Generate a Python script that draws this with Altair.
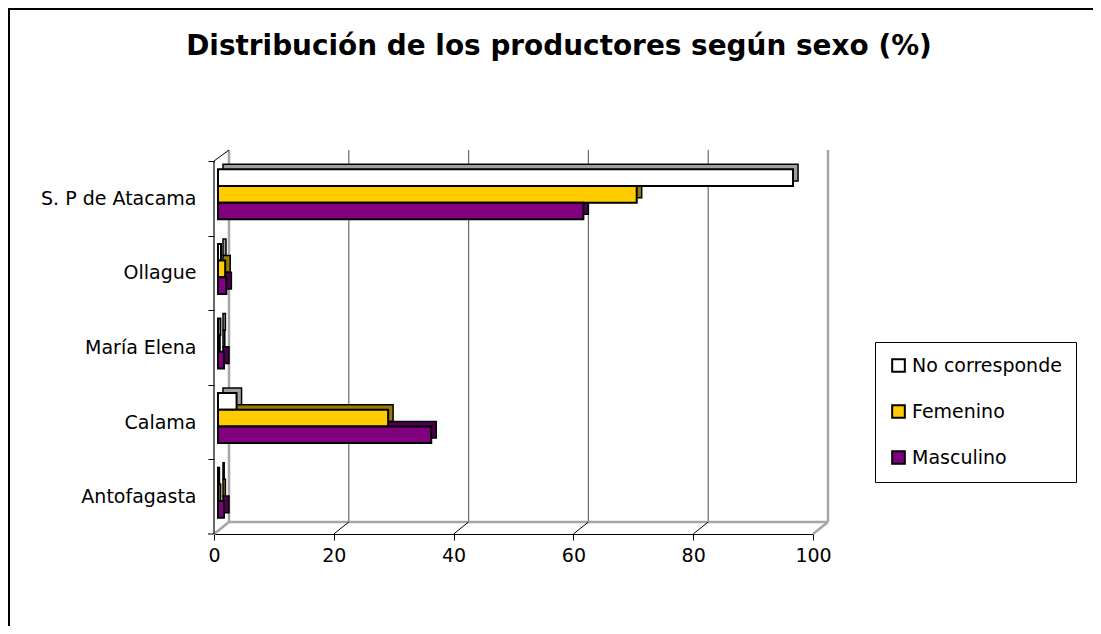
import altair as alt
import pandas as pd

categories = ["S. P de Atacama", "Ollague", "María Elena", "Calama", "Antofagasta"]
series = ["No corresponde", "Femenino", "Masculino"]
no_corresponde = [96.0, 0.5, 0.4, 3.1, 0.2]
femenino = [69.9, 1.2, 0.3, 28.4, 0.4]
masculino = [61.0, 1.4, 1.0, 35.6, 1.0]
colors = ["#FFFFFF", "#FFCC00", "#800080"]
side_colors = ["#A0A0A0", "#9A7A00", "#4D004D"]
x_ticks = [0, 20, 40, 60, 80, 100]
title_text = "Distribución de los productores según sexo (%)"

FONT = "DejaVu Sans"
W, H = 599, 373
STEP = H / 5.0
PI, PO = 0.33, 0.165
BW = STEP * (1 - PI)
DEPTH = 4

rows = []
for s, vals, sc in zip(series, [no_corresponde, femenino, masculino], side_colors):
    for c, v in zip(categories, vals):
        rows.append({"region": c, "sexo": s, "pct": v, "side": sc})
df = pd.DataFrame(rows)
one = pd.DataFrame({"a": [0]})
inner_df = pd.DataFrame({"t": x_ticks[1:-1]})
edge_df = pd.DataFrame({"t": [x_ticks[0], x_ticks[-1]]})

xscale = alt.Scale(domain=[0, 100], nice=False, zero=True)
yscale = alt.Scale(domain=categories, paddingInner=PI, paddingOuter=PO, range=[-DEPTH, H - DEPTH])

xaxis = alt.Axis(
    values=x_ticks, title=None, grid=False, domainColor="black", domainWidth=1.2,
    tickColor="black", tickSize=6, labelFontSize=19, labelFont=FONT,
    labelColor="black", labelPadding=6, format="d", labelFlush=False)
yaxis = alt.Axis(
    title=None, grid=False, domain=False, tickColor="black",
    tickSize=6, tickOffset=-(STEP / 2 - DEPTH), labelOffset=STEP / 2, labelFontSize=19,
    labelFont=FONT, labelColor="black", labelPadding=12)

xq = alt.X("t:Q", scale=xscale, axis=xaxis)

# outer border
border = alt.Chart(one).mark_rect(fill=None, stroke="black", strokeWidth=2).encode(
    x=alt.value(-205), x2=alt.value(3000), y=alt.value(-152), y2=alt.value(3000)
)

title = alt.Chart(one).mark_text(
    text=title_text, font=FONT, fontSize=27.9, fontWeight="bold", align="center",
    baseline="alphabetic", color="black"
).encode(x=alt.value(345), y=alt.value(-106))

# back wall gridlines
grid = alt.Chart(inner_df).mark_rule(color="#6A6A6A", strokeWidth=1.2, xOffset=15).encode(
    x=xq, y=alt.value(-11), y2=alt.value(H - 12)
)
walls = alt.Chart(edge_df).mark_rule(color="#A6A6A6", strokeWidth=2.5, xOffset=15).encode(
    x=xq, y=alt.value(-11), y2=alt.value(H - 12)
)
floor_back = alt.Chart(one).mark_rule(color="#A6A6A6", strokeWidth=2.5).encode(
    x=alt.value(15), x2=alt.value(W + 15), y=alt.value(H - 12)
)
diag_inner = alt.Chart(inner_df).mark_rule(color="black", strokeWidth=1, x2Offset=15).encode(
    x=xq, x2=alt.X2("t:Q"), y=alt.value(H), y2=alt.value(H - 12)
)
diag_edge = alt.Chart(edge_df).mark_rule(color="#A6A6A6", strokeWidth=2.5, x2Offset=15).encode(
    x=xq, x2=alt.X2("t:Q"), y=alt.value(H), y2=alt.value(H - 12)
)
diag_top = alt.Chart(one).mark_rule(color="black", strokeWidth=1).encode(
    x=alt.value(0), x2=alt.value(15), y=alt.value(0), y2=alt.value(-11)
)
y_domain = alt.Chart(one).mark_rule(color="black", strokeWidth=1.2).encode(
    x=alt.value(0), y=alt.value(0), y2=alt.value(H)
)
bottom_tick = alt.Chart(one).mark_rule(color="black", strokeWidth=1).encode(
    x=alt.value(-6), x2=alt.value(0), y=alt.value(H)
)

shadow = alt.Chart(df).mark_bar(
    stroke="black", strokeWidth=1.5, xOffset=9, x2Offset=9
).encode(
    x=alt.X("pct:Q", scale=xscale, axis=xaxis),
    y=alt.Y("region:N", sort=categories, scale=yscale, axis=yaxis),
    yOffset=alt.YOffset("sexo:N", sort=series,
                        scale=alt.Scale(domain=series, paddingInner=0, paddingOuter=0,
                                        range=[-5, BW - 5])),
    fill=alt.Fill("side:N", scale=None),
)

bars = alt.Chart(df).mark_bar(
    stroke="black", strokeWidth=2, xOffset=DEPTH
).encode(
    x=alt.X("pct:Q", scale=xscale, axis=xaxis),
    y=alt.Y("region:N", sort=categories, scale=yscale, axis=yaxis),
    yOffset=alt.YOffset("sexo:N", sort=series,
                        scale=alt.Scale(domain=series, paddingInner=0, paddingOuter=0,
                                        range=[0, BW])),
    color=alt.Color("sexo:N", sort=series, scale=alt.Scale(domain=series, range=colors),
                    legend=alt.Legend(
                        title=None, orient="none", legendX=661, legendY=181,
                        symbolType="square", symbolSize=160, symbolStrokeColor="black",
                        symbolStrokeWidth=2, labelFontSize=19,
                        labelFont=FONT, labelColor="black", rowPadding=25, padding=14,
                        strokeColor="black", fillColor="white", labelLimit=300,
                        symbolOpacity=1)),
)

chart = alt.layer(
    border, title, grid, walls, floor_back, diag_inner, diag_edge, diag_top,
    shadow, bars, y_domain, bottom_tick
).resolve_scale(yOffset="independent").properties(
    width=W, height=H,
    autosize=alt.AutoSizeParams(type="none"),
    padding={"left": 206, "top": 153, "right": 280, "bottom": 92},
).configure(background="white", view=alt.ViewConfig(stroke=None))

chart.save("out.html", embed_options={"renderer": "svg", "actions": False})
